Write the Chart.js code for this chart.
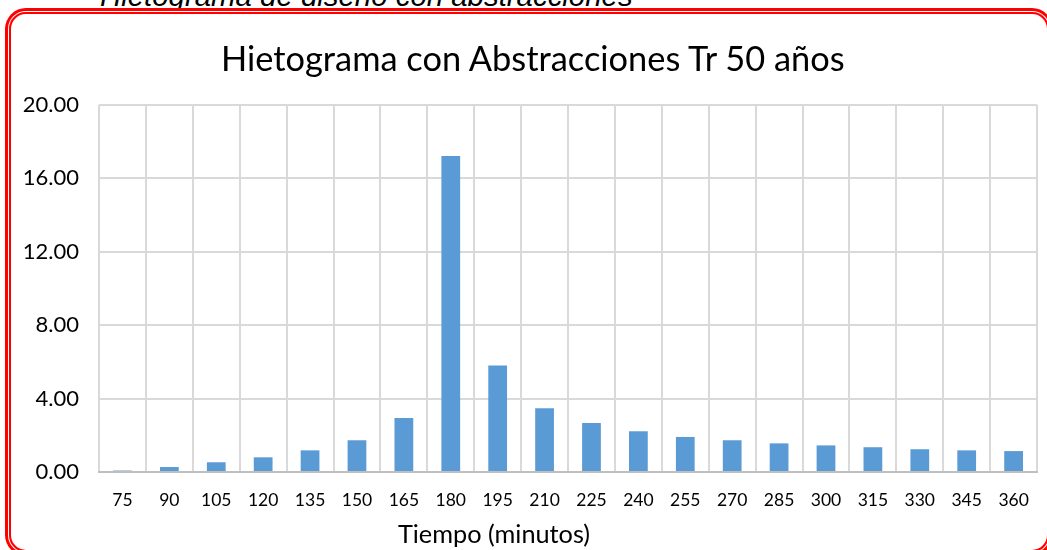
<!DOCTYPE html>
<html>
<head>
<meta charset="utf-8">
<script src="https://cdn.jsdelivr.net/npm/chart.js@4.4.1/dist/chart.umd.min.js"></script>
<style>
  html, body { margin: 0; padding: 0; background: #fff; }
  body { width: 1047px; height: 550px; position: relative; overflow: hidden; }
  #caption {
    position: absolute; left: 100px; top: -21px;
    font-family: "Liberation Sans", Arial, sans-serif; font-style: italic;
    font-size: 29.4px; line-height: 34px; color: #000; white-space: nowrap;
  }
  #frame {
    position: absolute; left: 9px; top: 12px; width: 1040px; height: 540px;
    box-sizing: border-box; border: 2px solid #ff0000; border-radius: 17px;
    box-shadow: 0 0 0 1px #fff, 0 0 0 4px #ff0000;
  }
  #title {
    position: absolute; left: 221px; width: 600px; top: 37px; text-align: center;
    font-family: Lato, sans-serif; font-size: 34.4px; line-height: 42px; color: #000; white-space: nowrap;
  }
  #xtitle {
    position: absolute; left: 394px; width: 200px; top: 517px; text-align: center;
    font-family: Lato, sans-serif; font-size: 25.3px; line-height: 32px; color: #000; white-space: nowrap;
  }
  #wrap { position: absolute; left: 0; top: 0; width: 1047px; height: 550px; }
</style>
</head>
<body>
<div id="caption">Hietograma de diseño con abstracciones</div>
<div id="frame"></div>
<div id="wrap"><canvas id="c" width="1047" height="550"></canvas></div>
<div id="title">Hietograma con Abstracciones Tr 50 años</div>
<div id="xtitle">Tiempo (minutos)</div>
<script>
const categories = ["75","90","105","120","135","150","165","180","195","210","225","240","255","270","285","300","315","330","345","360"];
const values = [0.08, 0.27, 0.53, 0.80, 1.18, 1.73, 2.94, 17.22, 5.80, 3.47, 2.67, 2.22, 1.91, 1.73, 1.56, 1.45, 1.35, 1.24, 1.18, 1.14];
const yTicks = [0, 4, 8, 12, 16, 20];

new Chart(document.getElementById('c'), {
  type: 'bar',
  data: {
    labels: categories,
    datasets: [{
      data: values,
      backgroundColor: '#5B9BD5',
      borderWidth: 0,
      barPercentage: 0.4,
      categoryPercentage: 1.0
    }]
  },
  options: {
    responsive: false,
    animation: false,
    devicePixelRatio: 1,
    layout: { padding: { left: 0, right: 7, top: 105, bottom: 0 } },
    plugins: { legend: { display: false }, tooltip: { enabled: false }, title: { display: false } },
    scales: {
      x: {
        grid: { color: '#d9d9d9', lineWidth: 2, drawTicks: false, offset: true },
        border: { color: '#bfbfbf', width: 2 },
        ticks: { color: '#000', font: { family: 'Lato', size: 17.5 }, padding: 18, maxRotation: 0, autoSkip: false },
        afterFit: (s) => { s.height = 78; }
      },
      y: {
        min: 0, max: 20,
        afterBuildTicks: (s) => { s.ticks = yTicks.map(v => ({ value: v })); },
        grid: { color: '#d9d9d9', lineWidth: 2, drawTicks: false },
        border: { display: false },
        ticks: { color: '#000', font: { family: 'Lato', size: 22 }, padding: 20, callback: (v) => Number(v).toFixed(2) },
        afterFit: (s) => { s.width = 99; }
      }
    }
  }
});
</script>
</body>
</html>
